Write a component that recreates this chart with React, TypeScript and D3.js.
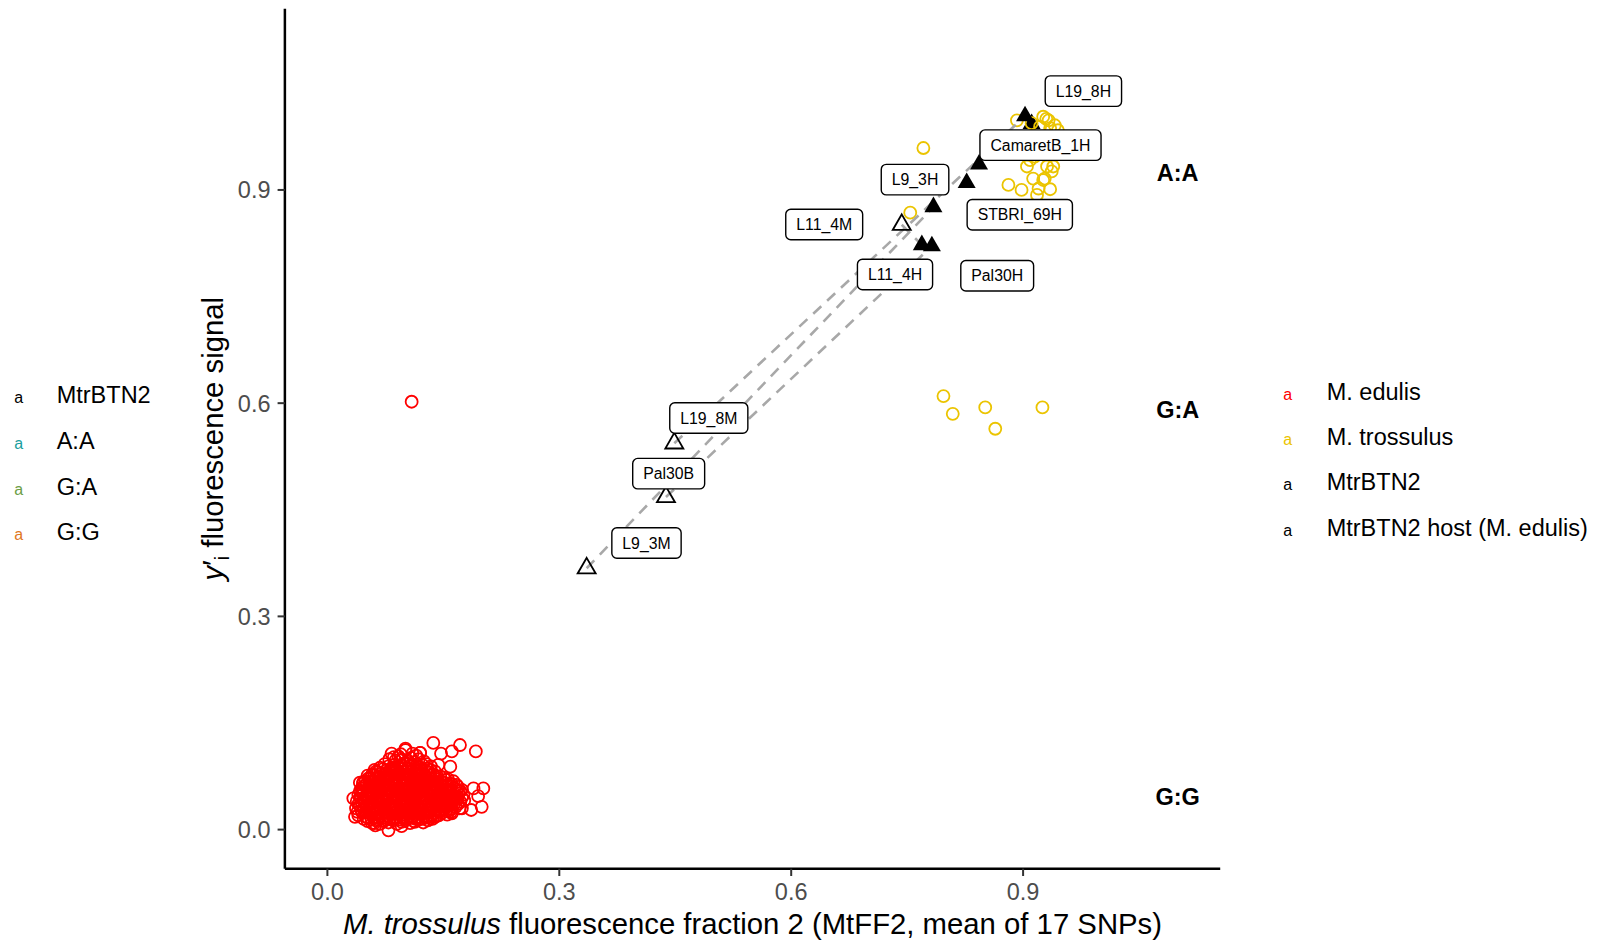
import React from "react";
import * as d3 from "d3";

// ---------------- DATA ----------------
const xTicks = [0, 0.3, 0.6, 0.9];
const yTicks = [0, 0.3, 0.6, 0.9];

// M. edulis (red open circles)
const edulisPoints: [number, number][] = [
  [0.083,0.107],[0.092,0.103],[0.101,0.112],[0.108,0.101],[0.115,0.104],[0.120,0.108],[0.097,0.098],[0.088,0.097],[0.125,0.096],[0.113,0.095],
  [0.068,0.087],[0.074,0.092],[0.079,0.089],[0.086,0.091],[0.094,0.088],[0.099,0.093],[0.104,0.086],[0.111,0.090],[0.118,0.087],[0.123,0.091],[0.129,0.086],[0.134,0.089],[0.082,0.085],[0.090,0.084],[0.107,0.094],
  [0.058,0.078],[0.063,0.082],[0.070,0.079],[0.076,0.083],[0.081,0.077],[0.087,0.080],[0.093,0.076],[0.098,0.081],[0.103,0.078],[0.109,0.082],[0.114,0.077],[0.120,0.080],[0.126,0.076],[0.131,0.081],[0.137,0.078],[0.142,0.075],[0.066,0.075],[0.085,0.084],[0.117,0.083],[0.100,0.074],
  [0.042,0.066],[0.049,0.068],[0.053,0.072],[0.059,0.069],[0.064,0.073],[0.069,0.067],[0.074,0.071],[0.079,0.066],[0.084,0.072],[0.089,0.068],[0.094,0.070],[0.099,0.066],[0.104,0.071],[0.108,0.067],[0.113,0.073],[0.118,0.068],[0.123,0.071],[0.128,0.066],[0.133,0.072],[0.138,0.068],[0.143,0.071],[0.148,0.067],[0.153,0.070],[0.158,0.065],[0.163,0.068],[0.076,0.074],[0.091,0.073],[0.111,0.065],
  [0.044,0.058],[0.048,0.062],[0.054,0.060],[0.058,0.056],[0.063,0.063],[0.067,0.058],[0.072,0.061],[0.077,0.057],[0.081,0.062],[0.086,0.058],[0.090,0.063],[0.095,0.057],[0.100,0.061],[0.105,0.058],[0.109,0.063],[0.114,0.056],[0.119,0.061],[0.124,0.058],[0.129,0.062],[0.134,0.057],[0.139,0.061],[0.144,0.058],[0.149,0.062],[0.154,0.057],[0.159,0.061],[0.164,0.058],[0.169,0.060],[0.174,0.056],[0.071,0.064],[0.097,0.064],[0.121,0.065],
  [0.040,0.049],[0.045,0.053],[0.050,0.047],[0.055,0.052],[0.060,0.048],[0.065,0.053],[0.070,0.047],[0.074,0.051],[0.079,0.048],[0.083,0.053],[0.088,0.047],[0.093,0.052],[0.097,0.048],[0.102,0.053],[0.107,0.047],[0.111,0.052],[0.116,0.048],[0.121,0.053],[0.126,0.047],[0.130,0.052],[0.135,0.048],[0.140,0.053],[0.145,0.047],[0.150,0.052],[0.155,0.048],[0.160,0.053],[0.165,0.047],[0.170,0.051],[0.176,0.049],[0.062,0.055],[0.085,0.055],[0.118,0.055],
  [0.038,0.040],[0.043,0.044],[0.048,0.038],[0.053,0.043],[0.058,0.037],[0.062,0.042],[0.067,0.038],[0.072,0.044],[0.076,0.039],[0.081,0.043],[0.086,0.037],[0.090,0.042],[0.095,0.038],[0.100,0.043],[0.104,0.037],[0.109,0.042],[0.114,0.038],[0.118,0.044],[0.123,0.039],[0.128,0.043],[0.132,0.037],[0.137,0.042],[0.142,0.038],[0.147,0.043],[0.152,0.037],[0.157,0.042],[0.162,0.038],[0.167,0.043],[0.172,0.039],[0.177,0.041],
  [0.037,0.030],[0.042,0.034],[0.047,0.028],[0.052,0.033],[0.057,0.027],[0.061,0.032],[0.066,0.028],[0.071,0.034],[0.075,0.029],[0.080,0.033],[0.085,0.027],[0.089,0.032],[0.094,0.028],[0.099,0.034],[0.103,0.029],[0.108,0.033],[0.113,0.027],[0.117,0.032],[0.122,0.028],[0.127,0.034],[0.131,0.029],[0.136,0.033],[0.141,0.027],[0.146,0.032],[0.151,0.028],[0.156,0.033],[0.161,0.029],[0.166,0.032],[0.171,0.030],
  [0.040,0.020],[0.045,0.024],[0.050,0.018],[0.055,0.023],[0.060,0.017],[0.064,0.022],[0.069,0.018],[0.074,0.024],[0.078,0.019],[0.083,0.023],[0.088,0.017],[0.092,0.022],[0.097,0.018],[0.102,0.024],[0.106,0.019],[0.111,0.023],[0.116,0.017],[0.120,0.022],[0.125,0.018],[0.130,0.024],[0.134,0.019],[0.139,0.023],[0.144,0.020],[0.149,0.024],[0.155,0.021],[0.160,0.025],
  [0.052,0.012],[0.058,0.009],[0.063,0.013],[0.068,0.008],[0.073,0.012],[0.079,0.010],[0.085,0.013],[0.090,0.008],[0.096,0.011],[0.101,0.013],[0.107,0.009],[0.112,0.012],[0.118,0.014],[0.124,0.010],[0.130,0.013],[0.136,0.015],
  [0.079,-0.001],[0.062,0.006],[0.096,0.005],[0.061,0.009],[0.113,0.011],[0.139,0.018],[0.161,0.023],[0.174,0.030],
  [0.137,0.122],[0.1715,0.119],[0.192,0.110],[0.161,0.110],[0.147,0.107],[0.159,0.0885],[0.1435,0.091],[0.189,0.058],[0.2017,0.058],[0.195,0.047],[0.1996,0.032],[0.186,0.0276],[0.0357,0.018],[0.0465,0.067],[0.0335,0.044],[0.101,0.114],[0.120,0.108],
  [0.080,0.099],[0.086,0.102],[0.095,0.106],[0.104,0.097],[0.110,0.107],[0.118,0.099],[0.128,0.092],
  [0.061,0.084],[0.066,0.081],[0.072,0.085],[0.077,0.080],[0.084,0.087],[0.089,0.082],[0.096,0.085],[0.101,0.083],[0.106,0.089],[0.112,0.085],[0.116,0.091],[0.121,0.085],[0.127,0.083],[0.133,0.084],[0.139,0.082],
  [0.052,0.076],[0.056,0.072],[0.061,0.077],[0.068,0.073],[0.073,0.077],[0.078,0.072],[0.083,0.076],[0.088,0.074],[0.096,0.078],[0.101,0.072],[0.106,0.076],[0.111,0.074],[0.116,0.072],[0.122,0.076],[0.128,0.073],[0.134,0.076],[0.140,0.073],[0.146,0.075],[0.151,0.073],[0.156,0.071],
  [0.046,0.065],[0.051,0.064],[0.056,0.066],[0.061,0.062],[0.066,0.066],[0.073,0.064],[0.078,0.063],[0.083,0.066],[0.087,0.063],[0.093,0.066],[0.102,0.064],[0.107,0.061],[0.115,0.065],[0.119,0.064],[0.126,0.064],[0.131,0.066],[0.136,0.064],[0.141,0.066],[0.146,0.063],[0.151,0.066],[0.156,0.062],[0.161,0.064],[0.167,0.063],
  [0.042,0.054],[0.047,0.056],[0.052,0.055],[0.057,0.053],[0.065,0.056],[0.069,0.054],[0.075,0.055],[0.080,0.054],[0.088,0.056],[0.092,0.054],[0.098,0.055],[0.103,0.056],[0.108,0.054],[0.113,0.055],[0.123,0.055],[0.128,0.054],[0.132,0.056],[0.137,0.054],[0.142,0.056],[0.147,0.054],[0.152,0.055],[0.157,0.056],[0.162,0.054],[0.167,0.056],[0.172,0.054],
  [0.043,0.047],[0.047,0.043],[0.052,0.046],[0.057,0.044],[0.064,0.046],[0.069,0.043],[0.077,0.045],[0.081,0.046],[0.086,0.044],[0.091,0.046],[0.099,0.045],[0.104,0.046],[0.109,0.045],[0.113,0.046],[0.119,0.047],[0.125,0.045],[0.133,0.046],[0.138,0.045],[0.143,0.045],[0.149,0.046],[0.154,0.045],[0.159,0.046],[0.164,0.044],[0.169,0.046],[0.174,0.045],
  [0.040,0.036],[0.045,0.035],[0.050,0.034],[0.055,0.036],[0.060,0.034],[0.065,0.035],[0.069,0.036],[0.074,0.034],[0.078,0.036],[0.083,0.035],[0.088,0.034],[0.093,0.036],[0.097,0.035],[0.102,0.036],[0.106,0.034],[0.111,0.036],[0.116,0.035],[0.121,0.035],[0.125,0.037],[0.130,0.035],[0.135,0.036],[0.140,0.034],[0.145,0.036],[0.149,0.035],[0.154,0.036],[0.159,0.034],[0.164,0.036],[0.169,0.036],
  [0.039,0.025],[0.044,0.027],[0.049,0.024],[0.054,0.027],[0.059,0.025],[0.063,0.027],[0.068,0.024],[0.073,0.028],[0.077,0.025],[0.082,0.027],[0.087,0.024],[0.091,0.027],[0.096,0.025],[0.101,0.027],[0.105,0.024],[0.110,0.027],[0.115,0.025],[0.119,0.027],[0.124,0.024],[0.129,0.027],[0.133,0.025],[0.138,0.027],[0.143,0.025],[0.148,0.027],[0.153,0.026],[0.158,0.027],
  [0.047,0.015],[0.053,0.016],[0.057,0.014],[0.062,0.017],[0.066,0.014],[0.071,0.016],[0.076,0.014],[0.081,0.016],[0.086,0.015],[0.090,0.016],[0.095,0.014],[0.099,0.016],[0.104,0.015],[0.109,0.017],[0.114,0.015],[0.118,0.017],[0.123,0.015],[0.128,0.017],[0.133,0.016],[0.141,0.019],
  [0.109,0.602],
];

// M. trossulus (yellow open circles)
const trossulusPoints: [number, number][] = [
  [0.771,0.959],[0.754,0.868],[0.797,0.610],[0.809,0.585],[0.851,0.594],[0.864,0.564],[0.925,0.594],
  [0.892,0.998],[0.911,0.994],[0.926,1.003],[0.933,0.998],[0.941,0.991],[0.922,0.989],[0.935,0.987],[0.945,0.984],[0.930,1.000],
  [0.909,0.942],[0.905,0.933],[0.931,0.933],[0.937,0.926],[0.939,0.933],[0.913,0.916],[0.928,0.916],[0.926,0.914],
  [0.881,0.907],[0.898,0.900],[0.920,0.902],[0.935,0.901],[0.918,0.893],[0.930,0.960],[0.915,0.947],[0.940,0.952],
];

// MtrBTN2 samples: H = MtrBTN2 (filled), M/B = host tissue (open)
const btnIds = ["L19_8H","CamaretB_1H","STBRI_69H","L9_3H","L11_4H","Pal30H","L11_4M","L19_8M","Pal30B","L9_3M"];
const btnX = [0.9025,0.843,0.827,0.784,0.769,0.782,0.743,0.4488,0.438,0.3354];
const btnY = [1.004,0.936,0.910,0.876,0.8226,0.821,0.851,0.5435,0.468,0.3677];
const btnHost = [false,false,false,false,false,false,true,true,true,true];
// extra unlabelled MtrBTN2 point partly hidden in the trossulus cluster
const btnExtra: [number, number][] = [[0.911,0.993]];

// pairs joined by dashed lines (host -> cancer)
const pairs: [string, string][] = [["L9_3M","L9_3H"],["L19_8M","L19_8H"],["Pal30B","Pal30H"],["L11_4M","L11_4H"]];

// repelled label anchor positions (data units)
const labelX = [0.978,0.9225,0.8957,0.7602,0.7343,0.8665,0.6427,0.4934,0.4415,0.4128];
const labelY = [1.039,0.963,0.8652,0.9145,0.7811,0.7792,0.8514,0.5791,0.5008,0.4033];

// genotype annotations
const genoNames = ["A:A","G:A","G:G"];
const genoY = [0.924,0.591,0.047];
const genoX = 1.1;

// legends
const leftLegendLabels = ["MtrBTN2","A:A","G:A","G:G"];
const leftLegendColors = ["#000000","#1A9E9E","#6B9E45","#E0781E"];
const rightLegendLabels = ["M. edulis","M. trossulus","MtrBTN2","MtrBTN2 host (M. edulis)"];
const rightLegendColors = ["#FF0000","#EBC400","#000000","#000000"];

// ---------------- LAYOUT ----------------
const W = 1602, H = 941;
const FONT = "'Liberation Sans', Arial, Helvetica, sans-serif";
const x = d3.scaleLinear().domain([0, 1.1]).range([327.4, 1177.7]);
const y = d3.scaleLinear().domain([0, 1.1]).range([829.6, 47.8]);
const xMin = -0.055, xMax = 1.155;

let ctx: CanvasRenderingContext2D | null = null;
function textWidth(t: string, font: string): number {
  if (!ctx) ctx = document.createElement("canvas").getContext("2d");
  if (!ctx) return t.length * 9;
  ctx.font = font;
  return ctx.measureText(t).width;
}

const triR = 10.4;
function triPath(cx: number, cy: number) {
  const xc = triR * Math.sqrt(3) / 2;
  return `M${cx},${cy - triR}L${cx + xc},${cy + triR / 2}L${cx - xc},${cy + triR / 2}Z`;
}

export default function App() {
  const idx = (id: string) => btnIds.indexOf(id);
  const labelFont = 15.8;
  const circR = 6.0;
  return (
    <svg width={W} height={H} style={{ position: "absolute", left: 0, top: 0, display: "block", background: "#fff" }} fontFamily={FONT}>
      <rect x={0} y={0} width={W} height={H} fill="#fff" />
      {/* axes */}
      <line x1={x(xMin)} x2={x(xMax)} y1={y(xMin)} y2={y(xMin)} stroke="#000" strokeWidth={2.5} />
      <line x1={x(xMin)} x2={x(xMin)} y1={y(xMin)} y2={y(xMax)} stroke="#000" strokeWidth={2.5} />
      {xTicks.map((t) => (
        <g key={"xt" + t}>
          <line x1={x(t)} x2={x(t)} y1={y(xMin)} y2={y(xMin) + 7.3} stroke="#333" strokeWidth={2} />
          <text x={x(t)} y={900} textAnchor="middle" fontSize={23.5} fill="#4D4D4D">{t.toFixed(1)}</text>
        </g>
      ))}
      {yTicks.map((t) => (
        <g key={"yt" + t}>
          <line x1={x(xMin) - 7.3} x2={x(xMin)} y1={y(t)} y2={y(t)} stroke="#333" strokeWidth={2} />
          <text x={270.5} y={y(t) + 8.4} textAnchor="end" fontSize={23.5} fill="#4D4D4D">{t.toFixed(1)}</text>
        </g>
      ))}
      {/* axis titles */}
      <text x={752.5} y={934} textAnchor="middle" fontSize={29.3} fill="#000">
        <tspan fontStyle="italic">M. trossulus</tspan>
        <tspan> fluorescence fraction 2 (MtFF2, mean of 17 SNPs)</tspan>
      </text>
      <text transform={`translate(223,438.7) rotate(-90)`} textAnchor="middle" fontSize={29.3} fill="#000">
        <tspan fontStyle="italic">y</tspan>
        <tspan>′</tspan>
        <tspan fontSize={20} dy={6}>i</tspan>
        <tspan dy={-6}> fluorescence signal</tspan>
      </text>

      {/* points */}
      <g fill="none" stroke="#FF0000" strokeWidth={1.8}>
        {edulisPoints.map((p, i) => (
          <circle key={"e" + i} cx={x(p[0])} cy={y(p[1])} r={circR} />
        ))}
      </g>
      {btnExtra.map((p, i) => (
        <path key={"bx" + i} d={triPath(x(p[0]), y(p[1]))} fill="#000" />
      ))}
      <g fill="none" stroke="#EBC400" strokeWidth={1.8}>
        {trossulusPoints.map((p, i) => (
          <circle key={"t" + i} cx={x(p[0])} cy={y(p[1])} r={circR} />
        ))}
      </g>
      {/* dashed pair lines */}
      {pairs.map(([a, b]) => (
        <line key={a + b} x1={x(btnX[idx(a)])} y1={y(btnY[idx(a)])} x2={x(btnX[idx(b)])} y2={y(btnY[idx(b)])}
          stroke="#A8A8A8" strokeWidth={2.6} strokeDasharray="11,8" />
      ))}
      {/* triangles */}
      {btnIds.map((id, i) => (
        <path key={"b" + id} d={triPath(x(btnX[i]), y(btnY[i]))}
          fill={btnHost[i] ? "none" : "#000"} stroke="#000" strokeWidth={btnHost[i] ? 1.8 : 0} strokeLinejoin="miter" />
      ))}
      {/* labels */}
      {btnIds.map((id, i) => {
        const tw = textWidth(id, `${labelFont}px ${FONT}`);
        const bw = tw + 21;
        const bh = 30.5;
        const cx = x(labelX[i]);
        const cy = y(labelY[i]);
        return (
          <g key={"l" + id}>
            <rect x={cx - bw / 2} y={cy - bh / 2} width={bw} height={bh} rx={5} ry={5} fill="#fff" stroke="#000" strokeWidth={1.4} />
            <text x={cx} y={cy + 5.6} textAnchor="middle" fontSize={labelFont} fill="#000">{id}</text>
          </g>
        );
      })}
      {/* genotype labels */}
      {genoNames.map((g, i) => (
        <text key={g} x={x(genoX)} y={y(genoY[i]) + 8.4} textAnchor="middle" fontSize={23.5} fontWeight="bold" fill="#000">{g}</text>
      ))}
      {/* left legend */}
      {leftLegendLabels.map((l, i) => (
        <g key={"ll" + l}>
          <text x={18.8} y={403.3 + i * 45.7} textAnchor="middle" fontSize={16} fill={leftLegendColors[i]}>a</text>
          <text x={56.7} y={403.3 + i * 45.7} fontSize={23.5} fill="#000">{l}</text>
        </g>
      ))}
      {/* right legend */}
      {rightLegendLabels.map((l, i) => (
        <g key={"rl" + l}>
          <text x={1287.7} y={400 + i * 45.2} textAnchor="middle" fontSize={16} fill={rightLegendColors[i]}>a</text>
          <text x={1326.7} y={400 + i * 45.2} fontSize={23.5} fill="#000">{l}</text>
        </g>
      ))}
    </svg>
  );
}
